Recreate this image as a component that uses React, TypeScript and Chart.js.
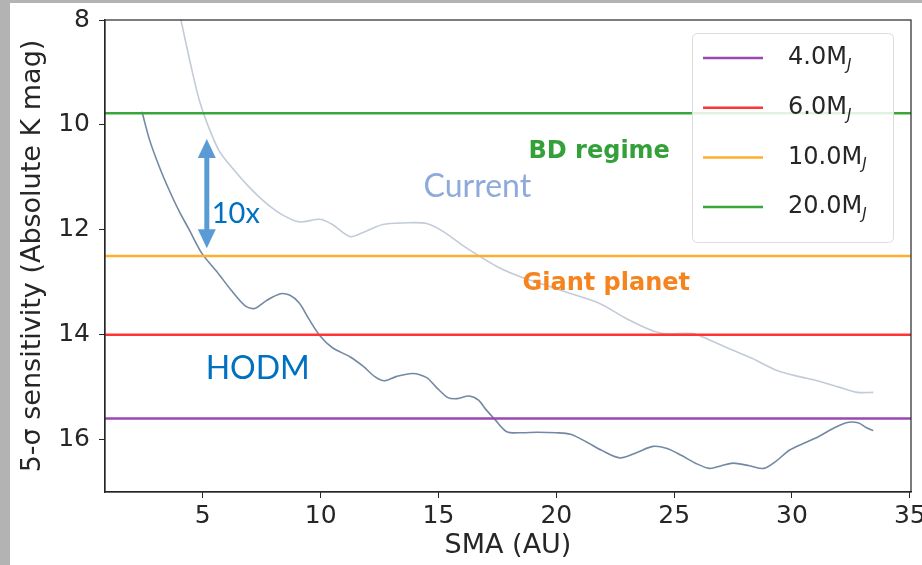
import React, { useEffect, useRef } from "react";
import { Chart, registerables } from "chart.js";

Chart.register(...registerables);

// Mass limits (horizontal lines)
const massLabels = ["4.0", "6.0", "10.0", "20.0"];
const massLimits = [15.6, 14.0, 12.5, 9.78];
const massColors = ["#9a48b0", "#ff3535", "#ffae2e", "#3aa53a"];

// Axis ranges / ticks
const xRange = [0.85, 35.05];
const yRange = [8, 17];
const xStep = 5;
const yStep = 2;

// HODM sensitivity curve
const hodmX = [2.42, 2.75, 3.2, 3.6, 4.0, 4.4, 4.96, 5.6, 6.2, 6.8, 7.2, 7.7, 8.3, 8.7, 9.1, 9.5, 9.97, 10.5, 11.24, 11.8, 12.3, 12.7, 13.2, 13.9, 14.5, 14.9, 15.4, 15.8, 16.3, 16.7, 17.0, 17.4, 17.9, 18.5, 19.2, 20.0, 20.6, 21.3, 21.9, 22.7, 23.4, 24.1, 24.7, 25.3, 25.9, 26.5, 27.0, 27.5, 28.2, 28.8, 29.3, 29.9, 30.5, 31.1, 31.7, 32.3, 32.8, 33.15, 33.45];
const hodmY = [9.75, 10.3, 10.85, 11.27, 11.65, 11.98, 12.45, 12.8, 13.15, 13.45, 13.5, 13.35, 13.22, 13.25, 13.4, 13.7, 14.02, 14.25, 14.42, 14.6, 14.8, 14.88, 14.8, 14.74, 14.82, 15.0, 15.2, 15.22, 15.17, 15.25, 15.42, 15.62, 15.85, 15.87, 15.86, 15.87, 15.9, 16.05, 16.2, 16.35, 16.25, 16.13, 16.17, 16.3, 16.45, 16.55, 16.5, 16.45, 16.5, 16.55, 16.42, 16.2, 16.07, 15.95, 15.8, 15.68, 15.68, 15.77, 15.83];

// Current sensitivity curve
const currentX = [4.05, 4.11, 4.53, 4.87, 5.21, 5.7, 6.27, 7.0, 7.71, 8.4, 9.1, 9.97, 10.5, 11.24, 11.8, 12.64, 13.5, 14.5, 15.19, 16.2, 17.6, 18.5, 19.5, 20.5, 21.86, 23.0, 24.4, 25.8, 26.5, 27.25, 28.3, 29.4, 30.3, 31.07, 32.0, 32.77, 33.45];
const currentY = [7.95, 8.08, 8.94, 9.56, 10.0, 10.5, 10.83, 11.2, 11.5, 11.72, 11.85, 11.8, 11.9, 12.13, 12.05, 11.9, 11.87, 11.88, 12.03, 12.35, 12.73, 12.9, 13.05, 13.2, 13.41, 13.7, 13.97, 13.98, 14.1, 14.25, 14.45, 14.69, 14.8, 14.88, 15.0, 15.1, 15.1];

// Annotations (data coordinates)
const bdLabel = { text: "BD regime", x: 21.82, y: 10.51 };
const gpLabel = { text: "Giant planet", x: 22.12, y: 13.02 };
const currentLabel = { text: "Current", x: 16.65, y: 11.18 };
const hodmLabel = { text: "HODM", x: 7.33, y: 14.65 };
const tenxLabel = { text: "10x", x: 5.38, y: 11.69 };
const arrowSpan = { x: 5.17, top: 10.27, bottom: 12.35 };

const FONT = "'DejaVu Sans', sans-serif";
const AXIS_COLOR = "#262626";

const decorPlugin = {
  id: "decor",
  beforeDraw(chart: any) {
    const ctx = chart.ctx;
    ctx.save();
    ctx.fillStyle = "#ffffff";
    ctx.fillRect(0, 0, chart.width, chart.height);
    ctx.fillStyle = "#b3b3b3";
    ctx.fillRect(0, 0, 10, chart.height);
    ctx.fillRect(0, 0, chart.width, 3);
    ctx.restore();
  },
  afterDatasetsDraw(chart: any) {
    const ctx = chart.ctx;
    const xs = chart.scales.x;
    const ys = chart.scales.y;
    ctx.save();
    ctx.textAlign = "center";
    ctx.textBaseline = "middle";
    ctx.font = `bold 24px ${FONT}`;
    ctx.fillStyle = "#34a03a";
    ctx.fillText(bdLabel.text, xs.getPixelForValue(bdLabel.x), ys.getPixelForValue(bdLabel.y));
    ctx.fillStyle = "#f5841f";
    ctx.fillText(gpLabel.text, xs.getPixelForValue(gpLabel.x), ys.getPixelForValue(gpLabel.y));

    ctx.font = `32px Lato, 'Open Sans', sans-serif`;
    ctx.fillStyle = "#8eaadb";
    ctx.fillText(currentLabel.text, xs.getPixelForValue(currentLabel.x), ys.getPixelForValue(currentLabel.y));
    ctx.fillStyle = "#0070c0";
    ctx.fillText(hodmLabel.text, xs.getPixelForValue(hodmLabel.x), ys.getPixelForValue(hodmLabel.y));
    ctx.textAlign = "left";
    ctx.font = `29px Lato, 'Open Sans', sans-serif`;
    ctx.fillText(tenxLabel.text, xs.getPixelForValue(tenxLabel.x), ys.getPixelForValue(tenxLabel.y));

    // double arrow
    const ax = xs.getPixelForValue(arrowSpan.x);
    const y1 = ys.getPixelForValue(arrowSpan.top);
    const y2 = ys.getPixelForValue(arrowSpan.bottom);
    ctx.strokeStyle = "#5b9bd5";
    ctx.fillStyle = "#5b9bd5";
    ctx.lineWidth = 5;
    ctx.beginPath();
    ctx.moveTo(ax, y1 + 16);
    ctx.lineTo(ax, y2 - 16);
    ctx.stroke();
    ctx.beginPath();
    ctx.moveTo(ax, y1);
    ctx.lineTo(ax - 9, y1 + 19);
    ctx.lineTo(ax + 9, y1 + 19);
    ctx.closePath();
    ctx.fill();
    ctx.beginPath();
    ctx.moveTo(ax, y2);
    ctx.lineTo(ax - 9, y2 - 19);
    ctx.lineTo(ax + 9, y2 - 19);
    ctx.closePath();
    ctx.fill();
    ctx.restore();
  },
  afterDraw(chart: any) {
    const ctx = chart.ctx;
    const { left, top, right, bottom } = chart.chartArea;
    ctx.save();
    // full frame
    ctx.strokeStyle = AXIS_COLOR;
    ctx.lineWidth = 1.2;
    ctx.strokeRect(left, top, right - left, bottom - top);

    // legend
    const bx = right - 219;
    const by = top + 13;
    const bw = 201;
    const bh = 209;
    ctx.fillStyle = "rgba(255,255,255,0.85)";
    ctx.strokeStyle = "#dcdcdc";
    ctx.lineWidth = 1;
    ctx.beginPath();
    (ctx as any).roundRect(bx + 0.5, by + 0.5, bw, bh, 5);
    ctx.fill();
    ctx.stroke();
    const rowGap = 49.7;
    massLabels.forEach((lab, i) => {
      const ry = by + 25 + i * rowGap;
      ctx.strokeStyle = massColors[i];
      ctx.lineWidth = 2.5;
      ctx.beginPath();
      ctx.moveTo(bx + 11, ry);
      ctx.lineTo(bx + 71, ry);
      ctx.stroke();
      ctx.fillStyle = AXIS_COLOR;
      ctx.textAlign = "left";
      ctx.textBaseline = "middle";
      ctx.font = `24px ${FONT}`;
      const main = lab + "M";
      ctx.fillText(main, bx + 96, ry);
      const w = ctx.measureText(main).width;
      ctx.font = `italic 15px ${FONT}`;
      ctx.fillText("J", bx + 96 + w, ry + 8);
    });
    ctx.restore();
  },
};

export default function App() {
  const ref = useRef<HTMLCanvasElement | null>(null);
  useEffect(() => {
    if (!ref.current) return;
    const massSets = massLimits.map((v, i) => ({
      label: massLabels[i] + "MJ",
      data: [
        { x: xRange[0], y: v },
        { x: xRange[1], y: v },
      ],
      borderColor: massColors[i],
      borderWidth: 2.5,
      pointRadius: 0,
      showLine: true,
    }));
    const chart = new Chart(ref.current, {
      type: "scatter",
      data: {
        datasets: [
          ...massSets,
          {
            label: "HODM",
            data: hodmX.map((x, i) => ({ x, y: hodmY[i] })),
            borderColor: "#7389a3",
            borderWidth: 1.6,
            pointRadius: 0,
            showLine: true,
            tension: 0.3,
          },
          {
            label: "Current",
            data: currentX.map((x, i) => ({ x, y: currentY[i] })),
            borderColor: "#c3cbd8",
            borderWidth: 1.6,
            pointRadius: 0,
            showLine: true,
            tension: 0.3,
          },
        ],
      },
      options: {
        animation: false,
        responsive: false,
        devicePixelRatio: 1,
        layout: { padding: { left: 0, top: 20, right: 11, bottom: 0 } },
        plugins: { legend: { display: false }, tooltip: { enabled: false } },
        scales: {
          x: {
            type: "linear",
            min: xRange[0],
            max: xRange[1],
            afterFit: (s: any) => {
              s.height = 73;
              s.paddingLeft = 0;
              s.paddingRight = 0;
            },
            grid: { drawOnChartArea: false, drawTicks: true, tickLength: 6, color: AXIS_COLOR },
            border: { display: true, color: AXIS_COLOR, width: 1.2 },
            ticks: {
              stepSize: xStep,
              includeBounds: false,
              color: AXIS_COLOR,
              font: { family: FONT, size: 25 },
              padding: 3,
              maxRotation: 0,
            },
            title: {
              display: true,
              text: "SMA (AU)",
              color: AXIS_COLOR,
              font: { family: FONT, size: 27 },
              padding: { top: 0, bottom: 3 },
            },
          },
          y: {
            type: "linear",
            reverse: true,
            min: yRange[0],
            max: yRange[1],
            afterFit: (s: any) => {
              s.width = 105;
              s.paddingTop = 0;
              s.paddingBottom = 0;
            },
            grid: { drawOnChartArea: false, drawTicks: true, tickLength: 6, color: AXIS_COLOR },
            border: { display: true, color: AXIS_COLOR, width: 1.2 },
            ticks: {
              stepSize: yStep,
              includeBounds: false,
              color: AXIS_COLOR,
              font: { family: FONT, size: 25 },
              padding: 9,
            },
            title: {
              display: true,
              text: "5-σ sensitivity (Absolute K mag)",
              color: AXIS_COLOR,
              font: { family: FONT, size: 27 },
              padding: { top: 17, bottom: 0 },
            },
          },
        },
      },
      plugins: [decorPlugin],
    } as any);
    return () => chart.destroy();
  }, []);
  return (
    <div style={{ position: "absolute", left: 0, top: 0, width: 922, height: 565 }}>
      <canvas ref={ref} width={922} height={565} style={{ display: "block" }} />
    </div>
  );
}
